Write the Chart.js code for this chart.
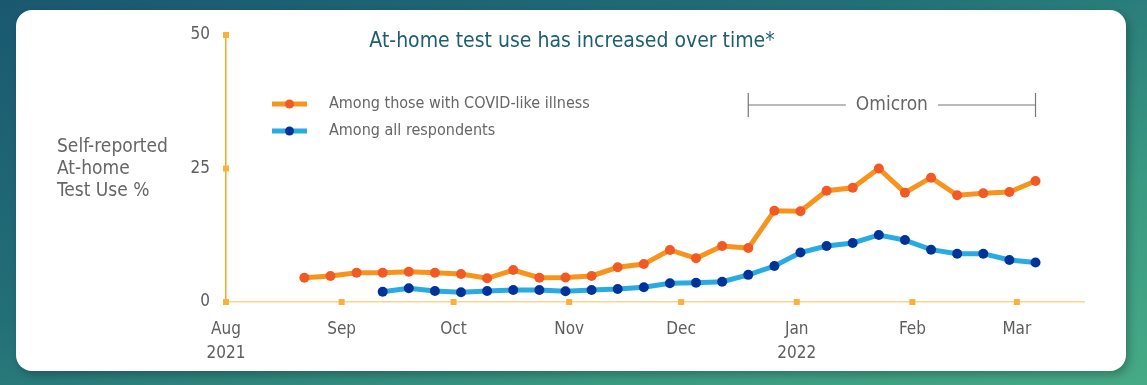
<!DOCTYPE html>
<html>
<head>
<meta charset="utf-8">
<script src="https://cdn.jsdelivr.net/npm/chart.js@4/dist/chart.umd.min.js"></script>
<style>
  html, body { margin: 0; padding: 0; }
  body {
    width: 1147px; height: 385px; overflow: hidden; position: relative;
    background: linear-gradient(160deg, #1a5870 0%, #236f77 40%, #3a9a82 75%, #46aa86 100%);
  }
  #card {
    position: absolute; left: 16px; top: 10px; width: 1110px; height: 361px;
    background: #fff; border-radius: 16px;
    box-shadow: 3px 4px 8px rgba(0,0,0,0.25);
  }
  #wrap { position: absolute; left: 0; top: 0; width: 1147px; height: 385px; }
</style>
</head>
<body>
<div id="card"></div>
<div id="wrap"><canvas id="myChart" width="1147" height="385"></canvas></div>
<script>
// days counted from Aug 1 2021
const monthDays = [0, 31, 61, 92, 122, 153, 184, 212];
const monthLabels = [['Aug', '2021'], 'Sep', 'Oct', 'Nov', 'Dec', ['Jan', '2022'], 'Feb', 'Mar'];

const illnessStart = 21;   // Aug 22 2021
const illnessValues = [4.55, 4.87, 5.49, 5.49, 5.67, 5.49, 5.24, 4.44, 5.99, 4.55,
    4.6, 4.87, 6.5, 7.1, 9.74, 8.18, 10.49, 10.1, 17.1, 17.0,
    20.84, 21.4, 25.0, 20.47, 23.28, 19.98, 20.35, 20.6, 22.66];

const allStart = 42;       // Sep 12 2021
const allValues = [1.93, 2.57, 2.06, 1.82, 2.06, 2.25, 2.25, 2.0, 2.25, 2.43,
    2.75, 3.5, 3.62, 3.8, 5.08, 6.74, 9.27, 10.49, 11.05, 12.55,
    11.6, 9.8, 9.05, 9.05, 7.87, 7.4];

const omicronFrom = 140;
const omicronTo = 217;

const FONT = "'Liberation Sans Narrow', 'DejaVu Sans Condensed', Roboto, sans-serif";

function weekly(start, values) {
    return values.map((v, i) => ({ x: start + i * 7, y: v }));
}

const extras = {
    id: 'extras',
    afterDraw(chart) {
        const ctx = chart.ctx;
        const xs = chart.scales.x, ys = chart.scales.y;
        ctx.save();

        // tick squares
        ctx.fillStyle = '#fbb03b';
        ys.ticks.forEach(t => {
            ctx.fillRect(xs.left - 3, ys.getPixelForValue(t.value) - 3, 6, 6);
        });
        xs.ticks.forEach(t => {
            ctx.fillRect(xs.getPixelForValue(t.value) - 3, ys.bottom - 3, 6, 6);
        });

        // title
        ctx.fillStyle = '#1d5f70';
        ctx.font = '21px ' + FONT;
        ctx.textAlign = 'center';
        ctx.textBaseline = 'middle';
        ctx.fillText('At-home test use has increased over time*', 572, 42);

        // y label
        ctx.fillStyle = '#666';
        ctx.font = '19px ' + FONT;
        ctx.textAlign = 'left';
        ['Self-reported', 'At-home', 'Test Use %'].forEach((s, i) => {
            ctx.fillText(s, 57, 147 + i * 22);
        });

        // legend
        const ds = chart.data.datasets;
        ctx.font = '16px ' + FONT;
        ds.forEach((d, i) => {
            const y = 104 + i * 27;
            ctx.strokeStyle = d.borderColor;
            ctx.lineWidth = 5;
            ctx.beginPath();
            ctx.moveTo(272, y);
            ctx.lineTo(307, y);
            ctx.stroke();
            ctx.fillStyle = d.pointBackgroundColor;
            ctx.beginPath();
            ctx.arc(289.5, y, 4.5, 0, Math.PI * 2);
            ctx.fill();
            ctx.fillStyle = '#666';
            ctx.fillText(d.label, 329, y);
        });

        // omicron bracket
        const x1 = xs.getPixelForValue(omicronFrom);
        const x2 = xs.getPixelForValue(omicronTo);
        const xm = (x1 + x2) / 2;
        const yb = 105;
        ctx.strokeStyle = '#777';
        ctx.lineWidth = 1.2;
        ctx.beginPath();
        ctx.moveTo(x1, yb - 12); ctx.lineTo(x1, yb + 12);
        ctx.moveTo(x2, yb - 12); ctx.lineTo(x2, yb + 12);
        ctx.moveTo(x1, yb); ctx.lineTo(xm - 46, yb);
        ctx.moveTo(xm + 46, yb); ctx.lineTo(x2, yb);
        ctx.stroke();
        ctx.fillStyle = '#666';
        ctx.font = '19px ' + FONT;
        ctx.textAlign = 'center';
        ctx.fillText('Omicron', xm, yb);

        ctx.restore();
    }
};

let myChart = document.getElementById('myChart').getContext('2d');

let testChart = new Chart(myChart, {
    type: 'line',
    data: {
        datasets: [{
            label: 'Among those with COVID-like illness',
            data: weekly(illnessStart, illnessValues),
            borderColor: '#f7941d',
            borderWidth: 5,
            pointRadius: 5,
            pointBorderWidth: 0,
            pointBackgroundColor: '#f15a24',
            pointHoverRadius: 5,
            fill: false,
        }, {
            label: 'Among all respondents',
            data: weekly(allStart, allValues),
            borderColor: '#29abe2',
            borderWidth: 5,
            pointRadius: 5,
            pointBorderWidth: 0,
            pointBackgroundColor: '#003399',
            pointHoverRadius: 5,
            fill: false,
        }]
    },
    options: {
        responsive: false,
        animation: false,
        layout: {
            padding: { left: 166, top: 35, right: 63, bottom: 0 }
        },
        plugins: {
            legend: { display: false },
            tooltip: { enabled: false }
        },
        scales: {
            x: {
                type: 'linear',
                min: 0,
                max: 230,
                afterFit(scale) { scale.height = 83; },
                afterBuildTicks(scale) {
                    scale.ticks = monthDays.map(v => ({ value: v }));
                },
                grid: { display: false },
                border: { color: '#fdd58a', width: 1.5 },
                ticks: {
                    autoSkip: false,
                    maxRotation: 0,
                    padding: 8,
                    color: '#5e5e5e',
                    font: { family: FONT, size: 17, weight: 'normal', lineHeight: 1.4 },
                    callback: (v) => monthLabels[monthDays.indexOf(v)]
                }
            },
            y: {
                type: 'linear',
                min: 0,
                max: 50,
                afterFit(scale) { scale.width = 60; },
                grid: { display: false },
                border: { color: '#f7a81b', width: 1.5 },
                ticks: {
                    stepSize: 25,
                    padding: 8,
                    color: '#5e5e5e',
                    font: { family: FONT, size: 17, weight: 'normal' }
                }
            }
        }
    },
    plugins: [extras]
});
</script>
</body>
</html>
